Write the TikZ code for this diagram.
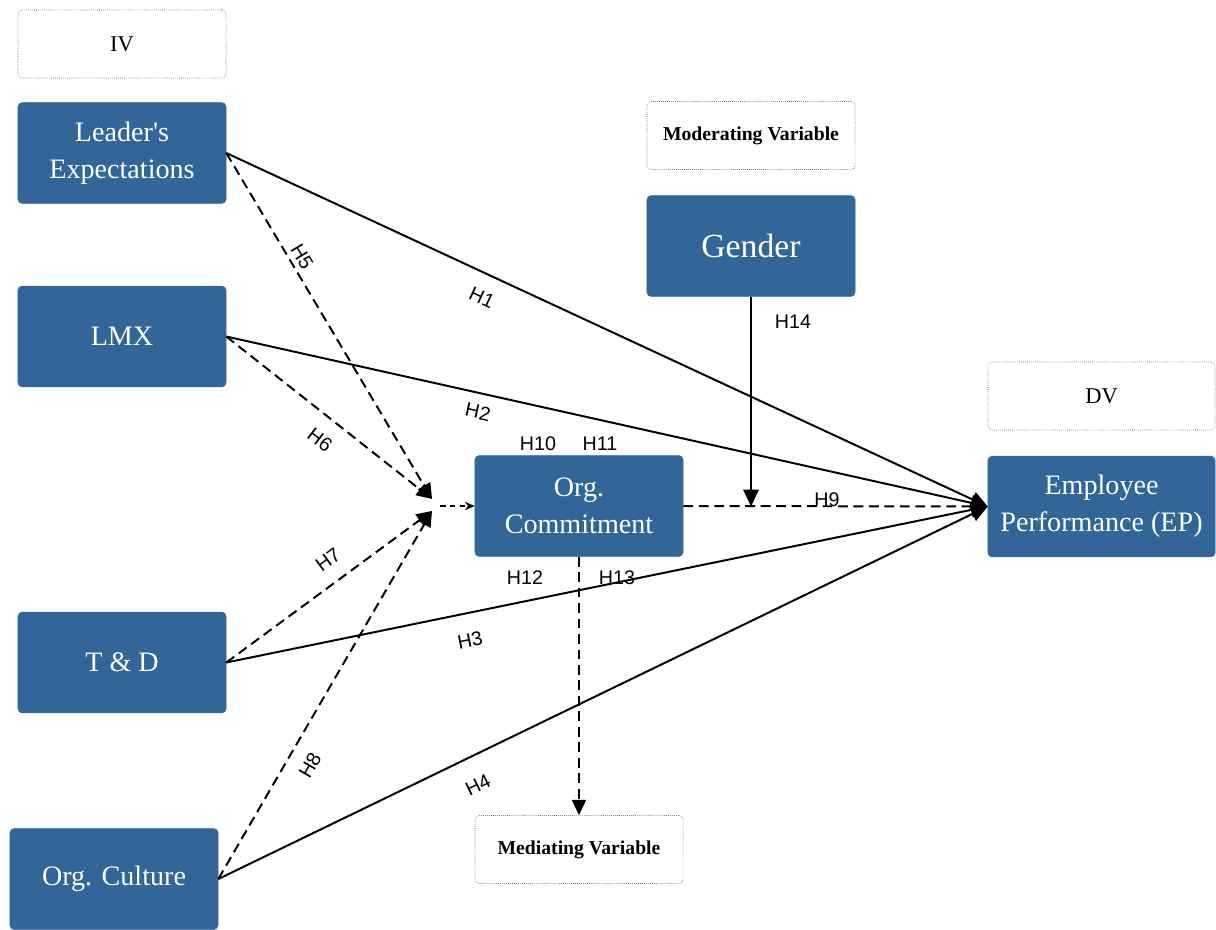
\documentclass[tikz,border=0pt]{standalone}
\usepackage{fontspec}
\setmainfont{Liberation Serif}
\newfontfamily\hfont{Liberation Sans}
\usetikzlibrary{arrows.meta}
\definecolor{boxblue}{RGB}{50,101,152}
\tikzset{
  varbox/.style={rectangle,rounded corners=3pt,fill=boxblue,draw=boxblue,text=white,
    minimum width=5.2cm,minimum height=2.52cm,inner sep=0pt,align=center,
    font=\fontsize{20}{26}\selectfont},
  tagbox/.style={rectangle,rounded corners=3pt,draw=black!70,densely dotted,
    minimum width=5.2cm,minimum height=1.7cm,inner sep=0pt,font=\fontsize{16}{18}\selectfont},
  hyp/.style={font=\hfont\fontsize{14}{16}\selectfont,inner sep=1pt},
  direct/.style={-{Triangle[length=12pt,width=11pt]},line width=1.4pt},
  indirect/.style={-{Triangle[length=11pt,width=10pt]},line width=1.4pt,dash pattern=on 7pt off 4pt},
  feed/.style={-{Stealth[length=7pt,width=6pt]},line width=0.9pt,dash pattern=on 4pt off 3pt}
}
\begin{document}
\begin{tikzpicture}[x=0.025cm,y=-0.025cm]
\useasboundingbox (0,0) rectangle (1216,929);

% independent variables
\node (iv) at (122,44) [tagbox] {IV};
\node (lead) at (122,153) [varbox] {Leader\textquotesingle s\\Expectations};
\node (lmx) at (122,336.5) [varbox] {LMX};
\node (td) at (122,662.5) [varbox] {T \& D};
\node (culture) at (114,879) [varbox] {Org. Culture};

% moderator, mediator, outcome
\node (modvar) at (751,135.5) [tagbox,font=\fontsize{14}{16}\selectfont\bfseries] {Moderating Variable};
\node (gender) at (751,246) [varbox,font=\fontsize{24}{26}\selectfont] {Gender};
\node (orgc) at (579,506) [varbox] {Org.\\Commitment};
\node (medvar) at (579,849.5) [tagbox,font=\fontsize{14}{16}\selectfont\bfseries] {Mediating Variable};
\node (dv) at (1101.5,396) [tagbox,minimum width=5.675cm] {DV};
\node (ep) at (1101.5,506.5) [varbox,minimum width=5.675cm] {Employee\\Performance (EP)};

\coordinate (m1) at (432,499);
\coordinate (m2) at (432,511);
\coordinate (m0) at (440,506);

% direct paths
\draw [direct] (lead.east) -- (ep.west);
\draw [direct] (lmx.east) -- (ep.west);
\draw [direct] (td.east) -- (ep.west);
\draw [direct] (culture.east) -- (ep.west);

% paths to the mediator
\draw [indirect] (lead.east) -- (m1);
\draw [indirect] (lmx.east) -- (m1);
\draw [indirect] (td.east) -- (m2);
\draw [indirect] (culture.east) -- (m2);
\draw [feed] (m0) -- (orgc.west);

\draw [indirect] (orgc.east) -- (ep.west);
\draw [direct,line width=1.2pt] (gender.south) -- (gender.south |- ep.west);
\draw [indirect] (orgc.south) -- (medvar.north);

% hypotheses
\node (h1) at (482,298) [hyp,rotate=-24.9] {H1};
\node (h2) at (478,412) [hyp,rotate=-12.6] {H2};
\node (h3) at (470,640) [hyp,rotate=11.6] {H3};
\node (h4) at (478,785) [hyp,rotate=25.9] {H4};
\node (h5) at (302,257) [hyp,rotate=-58.8] {H5};
\node (h6) at (320,440) [hyp,rotate=-37.4] {H6};
\node (h7) at (328,560) [hyp,rotate=36.3] {H7};
\node (h8) at (310,765) [hyp,rotate=59.9] {H8};
\node (h9) at (827,500) [hyp] {H9};
\node (h10) at (538,444) [hyp] {H10};
\node (h11) at (600,444) [hyp] {H11};
\node (h12) at (525,578) [hyp] {H12};
\node (h13) at (617,578) [hyp] {H13};
\node (h14) at (793,322) [hyp] {H14};
\end{tikzpicture}
\end{document}
